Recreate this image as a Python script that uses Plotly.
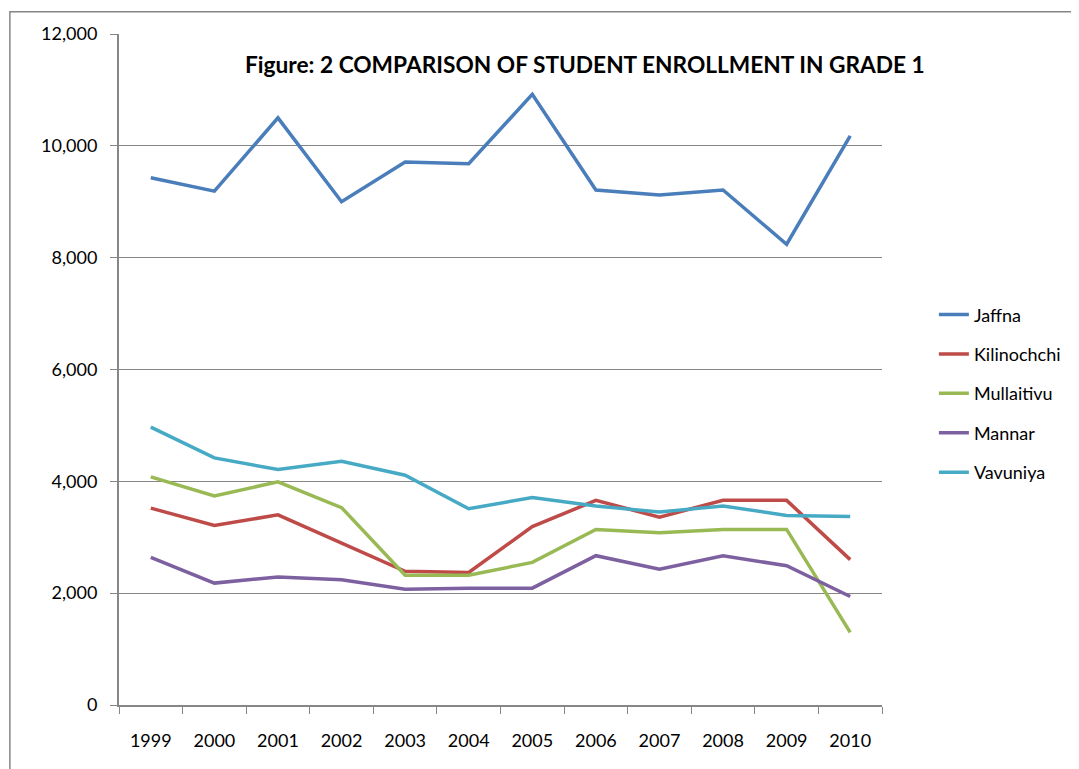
import plotly.graph_objects as go

# years (category axis)
years = ["1999", "2000", "2001", "2002", "2003", "2004",
         "2005", "2006", "2007", "2008", "2009", "2010"]

# grade 1 enrollment per district
jaffna = [9430, 9190, 10500, 9000, 9710, 9680, 10920, 9210, 9120, 9210, 8240, 10180]
kilinochchi = [3520, 3210, 3400, 2900, 2390, 2370, 3190, 3660, 3360, 3660, 3660, 2600]
mullaitivu = [4080, 3740, 3990, 3530, 2320, 2320, 2550, 3140, 3080, 3140, 3140, 1300]
mannar = [2640, 2180, 2290, 2240, 2070, 2090, 2090, 2670, 2430, 2670, 2490, 1940]
vavuniya = [4970, 4420, 4210, 4360, 4110, 3510, 3710, 3560, 3450, 3560, 3390, 3370]

series = [
    ("Jaffna", jaffna, "#4a7ebb"),
    ("Kilinochchi", kilinochchi, "#be4b48"),
    ("Mullaitivu", mullaitivu, "#98b954"),
    ("Mannar", mannar, "#7d60a0"),
    ("Vavuniya", vavuniya, "#46aac5"),
]

fig = go.Figure()
for name, vals, col in series:
    fig.add_trace(go.Scatter(
        x=years,
        y=vals,
        name=name,
        mode="lines",
        line=dict(color=col, width=3.5),
        legendgroup=name,
    ))

# the page puts the figure 8px in from the top-left corner
fig.update_layout(
    width=1071,
    height=761,
    margin=dict(l=111, r=197, t=26, b=64),
    paper_bgcolor="white",
    plot_bgcolor="white",
    font=dict(family="Lato", size=18, color="black"),
    showlegend=True,
    legend=dict(
        x=1.068, xanchor="left",
        y=0.609, yanchor="top",
        tracegroupgap=13,
        font=dict(size=18),
        bgcolor="rgba(0,0,0,0)",
    ),
    xaxis=dict(
        type="category",
        range=[-0.5, 11.5],
        tickson="boundaries",
        ticks="outside",
        ticklen=7,
        tickcolor="#868686",
        showgrid=False,
        showline=True,
        linecolor="#868686",
        linewidth=2,
        ticklabelstandoff=18,
    ),
    yaxis=dict(
        range=[0, 12000],
        dtick=2000,
        tickformat=",",
        ticks="outside",
        ticklen=7,
        tickcolor="#868686",
        showgrid=True,
        gridcolor="#868686",
        gridwidth=1,
        showline=True,
        linecolor="#868686",
        linewidth=2,
        zeroline=False,
        ticklabelstandoff=9,
    ),
    annotations=[dict(
        text="<b>Figure: 2 COMPARISON OF STUDENT ENROLLMENT IN GRADE 1</b>",
        xref="paper", yref="paper",
        x=0.611, y=0.955,
        xanchor="center", yanchor="middle",
        showarrow=False,
        font=dict(size=22.7, color="black"),
    )],
    shapes=[dict(
        type="rect",
        xref="paper", yref="paper",
        x0=-0.143, x1=1.5, y0=-0.5, y1=1.033,
        line=dict(color="#868686", width=1.5),
        layer="below",
    )],
)

fig.write_html("out.html")
